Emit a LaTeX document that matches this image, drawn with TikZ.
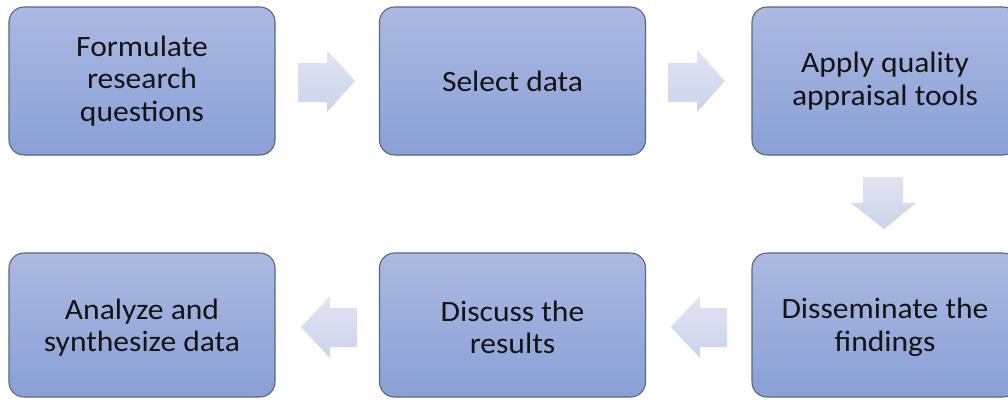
\documentclass[tikz,border=0pt]{standalone}
\usepackage{fontspec}
\setmainfont{Carlito}[FakeStretch=1.07]
\definecolor{boxtop}{RGB}{172,185,226}
\definecolor{boxbot}{RGB}{137,160,214}
\definecolor{boxline}{RGB}{90,102,128}
\definecolor{arrtop}{RGB}{224,228,243}
\definecolor{arrbot}{RGB}{204,211,234}
\definecolor{txt}{RGB}{20,20,20}
\tikzset{
  stepbox/.style={draw=boxline, line width=1.1pt, rounded corners=15pt,
    top color=boxtop, bottom color=boxbot, minimum width=266pt,
    align=center, text=txt, inner sep=0pt,
    font=\fontsize{29.5}{32.5}\selectfont},
  steptext/.style={align=center, text=txt, inner sep=0pt,
    font=\fontsize{29.5}{32.5}\selectfont},
  blockarrow/.style={top color=arrtop, bottom color=arrbot, draw=none}
}
\begin{document}
\begin{tikzpicture}[x=1pt,y=-1pt]
\useasboundingbox (0,0) rectangle (1008,400);
\fill[white] (0,0) rectangle (1008,400);
\node[stepbox, minimum height=148pt] (b1) at (142,81) {Formulate\\research\\questions};
\node[stepbox, minimum height=148pt] (b2) at (512.5,81) {Select data};
\node[stepbox, minimum height=148pt] (b3) at (885,81) {Apply quality\\appraisal tools};
\node[stepbox, minimum height=144pt] (b6) at (885,325) {};
\node[stepbox, minimum height=144pt] (b5) at (512.5,325) {};
\node[stepbox, minimum height=144pt] (b4) at (142,325) {};
\node[steptext] (t6) at ([yshift=-2.5pt]b6.center) {Disseminate the\\findings};
\node[steptext] (t5) at ([yshift=-2.5pt]b5.center) {Discuss the\\results};
\node[steptext] (t4) at ([yshift=-2.5pt]b4.center) {Analyze and\\synthesize data};
% right arrows
\path[blockarrow] (298,63) -- (327,63) -- (327,50) -- (355,81) -- (327,112) -- (327,102) -- (298,102) -- cycle;
\path[blockarrow] (668,63) -- (697,63) -- (697,50) -- (725,81) -- (697,112) -- (697,102) -- (668,102) -- cycle;
% down arrow
\path[blockarrow] (863,177) -- (903,177) -- (903,203) -- (916,203) -- (884,229) -- (851,203) -- (863,203) -- cycle;
% left arrows
\path[blockarrow] (727,308) -- (700,308) -- (700,296) -- (671,327) -- (700,358) -- (700,347) -- (727,347) -- cycle;
\path[blockarrow] (357,308) -- (330,308) -- (330,296) -- (301,327) -- (330,358) -- (330,347) -- (357,347) -- cycle;
\end{tikzpicture}
\end{document}
